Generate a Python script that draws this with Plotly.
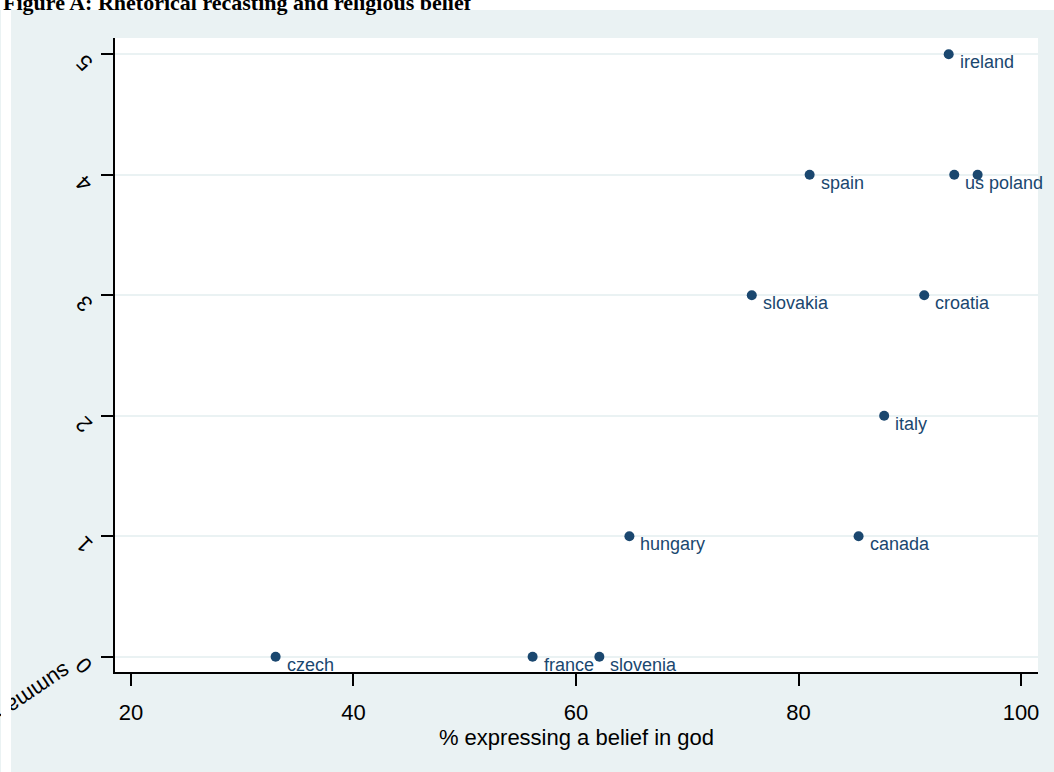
import plotly.graph_objects as go

# ---- data ----
countries = ["ireland", "us", "poland", "spain", "slovakia", "croatia",
             "italy", "hungary", "canada", "czech", "france", "slovenia"]
belief = [93.5, 94.0, 96.1, 81.0, 75.8, 91.3, 87.7, 64.8, 85.4, 33.0, 56.1, 62.1]
summ = [5, 4, 4, 4, 3, 3, 2, 1, 1, 0, 0, 0]
x_ticks = [20, 40, 60, 80, 100]
y_ticks = [0, 1, 2, 3, 4, 5]
title_text = "Figure A: Rhetorical recasting and religious belief"
x_title = "% expressing a belief in god"
y_title = "summary"

# ---- layout constants ----
W, H = 1054, 772
L, R, T, B = 114.5, 16, 38, 100
PW, PH = W - L - R, H - T - B
NAVY = "#1a476f"
BG = "rgb(234,242,243)"
FONT = "Liberation Sans, Arial, sans-serif"


def px_to_paper_x(px):
    return (px - L) / PW


def px_to_paper_y(py):
    return (H - B - py) / PH


fig = go.Figure()
fig.add_trace(go.Scatter(
    x=belief, y=summ, mode="markers",
    marker=dict(size=10, color=NAVY),
    hoverinfo="skip", showlegend=False,
))

annotations = []
for c, xv, yv in zip(countries, belief, summ):
    annotations.append(dict(
        x=xv, y=yv, xref="x", yref="y", text=c, showarrow=False,
        xanchor="left", yanchor="middle", xshift=9, yshift=-8,
        font=dict(family=FONT, size=18, color=NAVY),
    ))

# rotated y tick labels
for t in y_ticks:
    annotations.append(dict(
        x=px_to_paper_x(84), y=t, xref="paper", yref="y", text=str(t),
        showarrow=False, textangle=-135, yshift=-9,
        xanchor="center", yanchor="middle",
        font=dict(family=FONT, size=22, color="black"),
    ))

# rotated y-axis title (clipped at the graph region edge)
annotations.append(dict(
    x=px_to_paper_x(31), y=px_to_paper_y(694), xref="paper", yref="paper",
    text=y_title, showarrow=False, textangle=146,
    xanchor="center", yanchor="middle",
    font=dict(family=FONT, size=22, color="black"),
))
# white strip at left edge covering the overflow
annotations.append(dict(
    x=px_to_paper_x(5), y=px_to_paper_y(H / 2), xref="paper", yref="paper",
    text=" ", showarrow=False, width=10, height=H + 20, bgcolor="white",
    borderpad=0, borderwidth=0, xanchor="center", yanchor="middle",
))
# figure title, partly cut at the top of the page
annotations.append(dict(
    x=px_to_paper_x(0), y=px_to_paper_y(17), xref="paper", yref="paper",
    text="<b>" + title_text + "</b>", showarrow=False,
    xanchor="left", yanchor="bottom",
    font=dict(family="Liberation Serif, Times New Roman, serif", size=22, color="black"),
))

shapes = [
    dict(type="rect", xref="paper", yref="paper",
         x0=px_to_paper_x(-5), x1=px_to_paper_x(W + 5),
         y0=px_to_paper_y(10), y1=px_to_paper_y(-10),
         fillcolor="white", line=dict(width=0), layer="below"),
]

fig.update_layout(
    width=W, height=H,
    margin=dict(l=L, r=R, t=T, b=B, pad=0),
    paper_bgcolor=BG, plot_bgcolor="white",
    font=dict(family=FONT, color="black"),
    annotations=annotations, shapes=shapes,
    showlegend=False,
)
fig.update_xaxes(
    range=[18.563, 101.527], tickmode="array", tickvals=x_ticks,
    ticktext=[str(t) for t in x_ticks],
    showline=True, linecolor="black", linewidth=2,
    ticks="outside", ticklen=12, tickwidth=2, tickcolor="black",
    tickfont=dict(size=22, family=FONT, color="black"),
    ticklabelstandoff=8,
    showgrid=False, zeroline=False,
    title=dict(text=x_title, font=dict(size=22, family=FONT, color="black"), standoff=0),
)
fig.update_yaxes(
    range=[-0.127, 5.135], tickmode="array", tickvals=y_ticks,
    showticklabels=False,
    showline=True, linecolor="black", linewidth=2,
    ticks="outside", ticklen=12, tickwidth=2, tickcolor="black",
    showgrid=True, gridcolor=BG, gridwidth=2, zeroline=False,
)

fig.write_html("out.html", post_script="document.body.style.margin='0px';",
               config={"displayModeBar": False})
